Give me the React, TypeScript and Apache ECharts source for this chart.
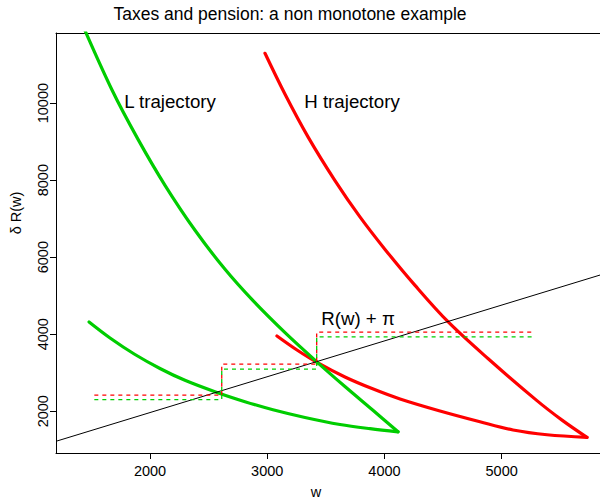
import React, { useEffect, useRef } from "react";
import * as echarts from "echarts";

// Axis ranges and tick labels
const xRange = [1198, 5839];
const yRange = [916, 11820];
const xTicks = [2000, 3000, 4000, 5000];
const yTicks = [2000, 4000, 6000, 8000, 10000];

// L trajectory (green): upper branch down to the cusp, then lower branch back
const lUpperW = [1403, 1676, 1898, 2128, 2384, 2640, 2879, 3152, 3425, 3663, 3902, 4116];
const lUpperR = [12178, 10340, 9058, 7866, 6698, 5685, 4870, 4039, 3276, 2642, 2025, 1466];
const lLowerW = [4116, 3877, 3621, 3322, 3049, 2810, 2571, 2298, 2085, 1872, 1659, 1480];
const lLowerR = [1466, 1547, 1656, 1838, 2038, 2248, 2487, 2803, 3110, 3473, 3902, 4317];

// H trajectory (red)
const hUpperW = [2981, 3152, 3348, 3578, 3791, 4005, 4261, 4542, 4883, 5301, 5515, 5728];
const hUpperR = [11293, 10229, 9123, 7988, 7046, 6202, 5267, 4325, 3369, 2276, 1770, 1321];
const hLowerW = [5728, 5387, 5097, 4815, 4474, 4133, 3894, 3663, 3425, 3254, 3083];
const hLowerR = [1321, 1389, 1513, 1726, 2006, 2318, 2588, 2889, 3268, 3590, 3954];

// R(w) + pi line
const lineW = [1198, 5839];
const lineR = [1220, 5536];

// dashed step lines
const stepW = [1525, 2612, 2612, 3422, 3422, 5276];
const redStepR = [2416, 2416, 3222, 3222, 4054, 4054];
const greenStepR = [2304, 2304, 3092, 3092, 3932, 3932];

const zip = (a: number[], b: number[]) => a.map((v, i) => [v, b[i]]);

const FONT = '"Liberation Sans", Arial, Helvetica, sans-serif';
const RED = "#FF0000";
const GREEN = "#00CD00";

export default function App() {
  const ref = useRef<HTMLDivElement>(null);
  useEffect(() => {
    if (!ref.current) return;
    const chart = echarts.init(ref.current, undefined, { renderer: "svg" });
    const curve = (w: number[], r: number[], color: string) => ({
      type: "line",
      data: zip(w, r),
      symbol: "none",
      smooth: 0.35,
      silent: true,
      clip: true,
      lineStyle: { color, width: 3.2, cap: "round", join: "round" },
    });
    const dashed = (w: number[], r: number[], color: string) => ({
      type: "line",
      data: zip(w, r),
      symbol: "none",
      silent: true,
      lineStyle: { color, width: 1.3, type: [4, 4] },
    });
    chart.setOption({
      animation: false,
      backgroundColor: "#ffffff",
      grid: {
        left: 56,
        right: 0,
        top: 33,
        bottom: 50,
        containLabel: false,
        outerBoundsMode: "none",
      },
      xAxis: [
        {
          type: "value",
          min: xRange[0],
          max: xRange[1],
          position: "bottom",
          splitLine: { show: false },
          axisLine: { show: true, onZero: false, lineStyle: { color: "#000", width: 1 } },
          axisTick: { show: true, length: 6, customValues: xTicks, lineStyle: { color: "#000", width: 1 } },
          axisLabel: {
            show: true,
            customValues: xTicks,
            margin: 18,
            verticalAlign: "middle",
            color: "#000",
            fontSize: 14.5,
            fontFamily: FONT,
            formatter: (v: number) => String(v),
          },
        },
        {
          type: "value",
          min: xRange[0],
          max: xRange[1],
          position: "top",
          splitLine: { show: false },
          axisLine: { show: true, onZero: false, lineStyle: { color: "#000", width: 1 } },
          axisTick: { show: false },
          axisLabel: { show: false },
        },
      ],
      yAxis: {
        type: "value",
        min: yRange[0],
        max: yRange[1],
        splitLine: { show: false },
        axisLine: { show: true, onZero: false, lineStyle: { color: "#000", width: 1 } },
        axisTick: { show: true, length: 6, customValues: yTicks, lineStyle: { color: "#000", width: 1 } },
        axisLabel: {
          show: true,
          customValues: yTicks,
          rotate: 90,
          margin: 13,
          verticalAlign: "middle",
          color: "#000",
          fontSize: 14.5,
          fontFamily: FONT,
          formatter: (v: number) => String(v),
        },
      },
      series: [
        curve(hUpperW, hUpperR, RED),
        curve(hLowerW, hLowerR, RED),
        curve(lUpperW, lUpperR, GREEN),
        curve(lLowerW, lLowerR, GREEN),
        {
          type: "line",
          data: zip(lineW, lineR),
          symbol: "none",
          silent: true,
          lineStyle: { color: "#000", width: 1 },
        },
        dashed(stepW, redStepR, RED),
        dashed(stepW, greenStepR, GREEN),
      ],
      graphic: [
        {
          type: "text",
          x: 290,
          y: 14,
          style: {
            text: "Taxes and pension: a non monotone example",
            font: `17.5px ${FONT}`,
            fill: "#000",
            textAlign: "center",
            textVerticalAlign: "middle",
          },
        },
        {
          type: "text",
          x: 316,
          y: 492,
          style: { text: "w", font: `14.5px ${FONT}`, fill: "#000", textAlign: "center", textVerticalAlign: "middle" },
        },
        {
          type: "text",
          x: 16,
          y: 213,
          rotation: Math.PI / 2,
          style: { text: "δ R(w)", font: `14.5px ${FONT}`, fill: "#000", textAlign: "center", textVerticalAlign: "middle" },
        },
        {
          type: "text",
          x: 170,
          y: 101,
          style: { text: "L trajectory", font: `18.7px ${FONT}`, fill: "#000", textAlign: "center", textVerticalAlign: "middle" },
        },
        {
          type: "text",
          x: 352,
          y: 101,
          style: { text: "H trajectory", font: `18.7px ${FONT}`, fill: "#000", textAlign: "center", textVerticalAlign: "middle" },
        },
        {
          type: "text",
          x: 358,
          y: 318,
          style: { text: "R(w) + π", font: `18.7px ${FONT}`, fill: "#000", textAlign: "center", textVerticalAlign: "middle" },
        },
      ],
    });
    return () => chart.dispose();
  }, []);
  return (
    <div
      ref={ref}
      style={{ position: "fixed", left: 0, top: 0, width: 600, height: 503, background: "#fff" }}
    />
  );
}
